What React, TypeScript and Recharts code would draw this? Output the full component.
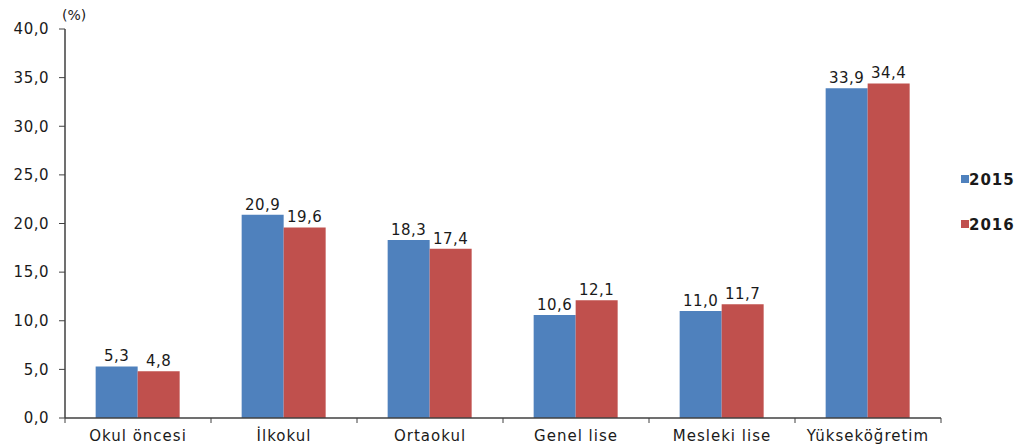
import React from "react";
import { BarChart, Bar, XAxis, YAxis, LabelList } from "recharts";

const categories = ["Okul öncesi", "İlkokul", "Ortaokul", "Genel lise", "Mesleki lise", "Yükseköğretim"];
const values2015 = [5.3, 20.9, 18.3, 10.6, 11.0, 33.9];
const values2016 = [4.8, 19.6, 17.4, 12.1, 11.7, 34.4];
const yTicks = [0, 5, 10, 15, 20, 25, 30, 35, 40];
const seriesNames = ["2015", "2016"];
const colors = ["#4F81BD", "#C0504D"];

const data = categories.map((c, i) => ({ name: c, a: values2015[i], b: values2016[i] }));

const W = 1029;
const H = 448;
const LEFT = 65;
const RIGHT = 941;
const TOP = 29;
const BOTTOM = 418;
const BAND = (RIGHT - LEFT) / categories.length;
const FONT = "'DejaVu Sans', Verdana, sans-serif";
const AXIS = "#404040";
const TEXT = "#1a1a1a";

const fmt = (v: number) => v.toFixed(1).replace(".", ",");

const XTick = (props: any) => {
  const { x, y, payload, index } = props;
  const left = x - BAND / 2;
  return (
    <g>
      <line x1={left} x2={left} y1={BOTTOM} y2={BOTTOM + 5} stroke={AXIS} strokeWidth={1} />
      {index === categories.length - 1 && (
        <line x1={left + BAND} x2={left + BAND} y1={BOTTOM} y2={BOTTOM + 5} stroke={AXIS} strokeWidth={1} />
      )}
      <text x={x} y={y + 15} textAnchor="middle" fontFamily={FONT} fontSize={15} letterSpacing={1} fill={TEXT}>
        {payload.value}
      </text>
    </g>
  );
};

export default function App() {
  return (
    <div style={{ position: "absolute", left: 0, top: 0, width: W, height: H, background: "#fff" }}>
      <BarChart
        width={W}
        height={H}
        data={data}
        margin={{ top: TOP, right: W - RIGHT, bottom: 0, left: 0 }}
        barCategoryGap="21%"
        barGap={0}
      >
        <XAxis
          dataKey="name"
          height={H - BOTTOM}
          axisLine={{ stroke: AXIS, strokeWidth: 1.5 }}
          tickLine={false}
          tick={<XTick />}
          interval={0}
        />
        <YAxis
          width={LEFT}
          domain={[0, 40]}
          ticks={yTicks}
          tickFormatter={fmt}
          axisLine={{ stroke: AXIS, strokeWidth: 1.5 }}
          tickLine={{ stroke: AXIS }}
          tickSize={6}
          tickMargin={10}
          tick={{ fontFamily: FONT, fontSize: 15, fill: TEXT, letterSpacing: 0.5 }}
        />
        <Bar dataKey="a" fill={colors[0]} isAnimationActive={false}>
          <LabelList dataKey="a" position="top" offset={5} formatter={(v: any) => fmt(Number(v))} style={{ fontFamily: FONT, fontSize: 15, fill: TEXT, letterSpacing: 0.5 }} />
        </Bar>
        <Bar dataKey="b" fill={colors[1]} isAnimationActive={false}>
          <LabelList dataKey="b" position="top" offset={5} formatter={(v: any) => fmt(Number(v))} style={{ fontFamily: FONT, fontSize: 15, fill: TEXT, letterSpacing: 0.5 }} />
        </Bar>
        <text x={62} y={20} fontFamily={FONT} fontSize={14} fill={TEXT}>(%)</text>
        {seriesNames.map((n, i) => (
          <g key={n}>
            <rect x={961} y={175 + i * 45} width={8} height={8} fill={colors[i]} />
            <text x={969} y={185 + i * 45} fontFamily={FONT} fontSize={15} fontWeight="bold" letterSpacing={1} fill={TEXT}>{n}</text>
          </g>
        ))}
      </BarChart>
    </div>
  );
}
